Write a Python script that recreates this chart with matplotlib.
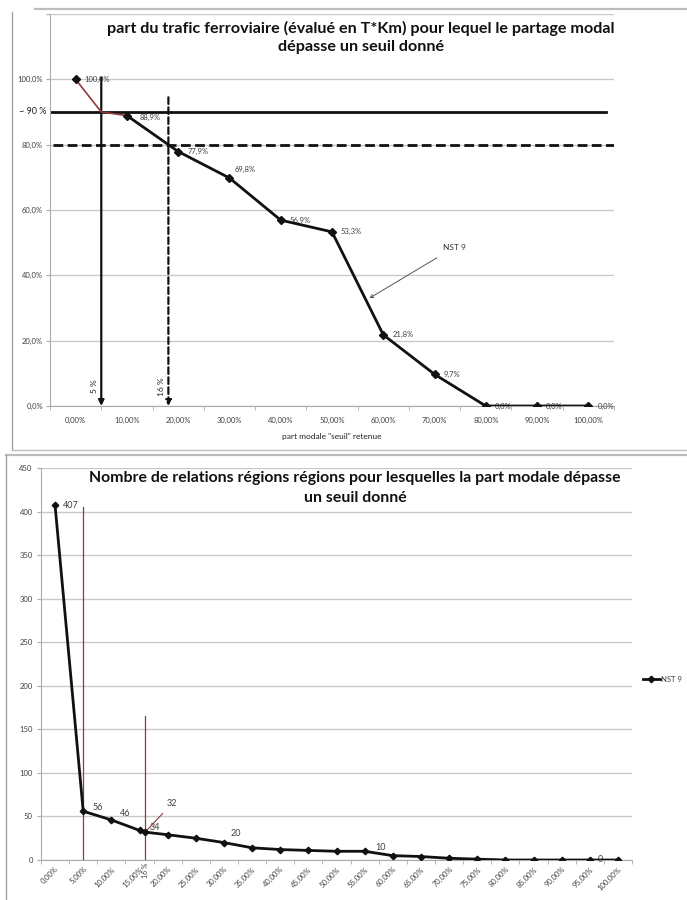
import numpy as np
import matplotlib
matplotlib.use("Agg")
import matplotlib.pyplot as plt
from matplotlib.lines import Line2D
from matplotlib.ticker import FixedLocator, FuncFormatter

plt.rcParams['font.family'] = ['Lato', 'DejaVu Sans']

# ---- data: share of rail traffic (T*Km) above a modal-share threshold ----
seuils_top = [0, 10, 20, 30, 40, 50, 60, 70, 80, 90, 100]
part_trafic = [100.0, 88.9, 77.9, 69.8, 56.9, 53.3, 21.8, 9.7, 0.0, 0.0, 0.0]
top_labels = ["0,00%", "10,00%", "20,00%", "30,00%", "40,00%", "50,00%",
              "60,00%", "70,00%", "80,00%", "90,00%", "100,00%"]
# threshold reached for ~90 % of the traffic
seuil_90 = 5
niveau_90 = 90
# threshold reached for 80 % of the traffic
niveau_80 = 80

# ---- data: number of region-to-region relations above a threshold ----
seuils_bottom = [0, 5, 10, 15, 16, 20, 25, 30, 35, 40, 45, 50, 55, 60, 65,
                 70, 75, 80, 85, 90, 95, 100]
nb_relations = [407, 56, 46, 34, 32, 29, 25, 20, 14, 12, 11, 10, 10, 5, 4,
                2, 1, 0, 0, 0, 0, 0]
bottom_ticks = list(range(0, 101, 5))
bottom_labels = ["%d,00%%" % v for v in bottom_ticks]
seuil_16 = 16

W, H = 687, 900
fig = plt.figure(figsize=(W / 100, H / 100), dpi=100)
fig.patch.set_facecolor("white")


def box(x0, y0, x1, y1):
    """pixel box (top-left origin) -> figure fraction rect"""
    return [x0 / W, 1 - y1 / H, (x1 - x0) / W, (y1 - y0) / H]


def fx(x):
    return x / W


def fy(y):
    return 1 - y / H


grid_c = "#c9c9c9"
txt_c = "#404040"
red_c = "#8e3b3b"

# ---------------- frames of the two chart areas ----------------
frame_c = "#bdbdbd"
fig.add_artist(Line2D([fx(35), fx(687)], [fy(9), fy(9)], color=frame_c, lw=1.6))
fig.add_artist(Line2D([fx(12), fx(12)], [fy(12), fy(450)], color="#9a9a9a", lw=0.9))
fig.add_artist(Line2D([fx(12), fx(687)], [fy(450), fy(450)], color=frame_c, lw=1.0))
fig.add_artist(Line2D([fx(6), fx(687)], [fy(455), fy(455)], color=frame_c, lw=1.6))
fig.add_artist(Line2D([fx(6), fx(6)], [fy(455), fy(900)], color="#9a9a9a", lw=0.9))

# ======================= top chart =======================
ax = fig.add_axes(box(50, 14, 614, 406))
ax.set_xlim(-5, 105)
ax.set_ylim(0, 120)
for s in ("top", "right"):
    ax.spines[s].set_visible(False)
for s in ("left", "bottom"):
    ax.spines[s].set_color("#aaaaaa")
    ax.spines[s].set_linewidth(0.8)

ax.yaxis.set_major_locator(FixedLocator([0, 20, 40, 60, 80, 100, 120]))
ax.yaxis.set_major_formatter(FuncFormatter(
    lambda v, p: "" if v > 100 else ("%.1f%%" % v).replace(".", ",")))
ax.grid(axis="y", color=grid_c, lw=1.0)
ax.set_axisbelow(True)
ax.tick_params(axis="y", length=3, color="#aaaaaa", labelsize=5.5,
               labelcolor=txt_c, pad=2)
ax.set_xticks(seuils_top)
ax.set_xticklabels(top_labels)
ax.set_xticks(np.arange(-5, 106, 10), minor=True)
ax.tick_params(axis="x", which="major", length=0, labelsize=5.5,
               labelcolor=txt_c, pad=8)
ax.tick_params(axis="x", which="minor", length=3, color="#aaaaaa")
ax.set_xlabel('part modale "seuil" retenue', fontsize=6, color="#222222",
              labelpad=6)
ax.text(-5.8, niveau_90, "~ 90 %", ha="right", va="center", fontsize=6.5,
        color="#222222")

# threshold guide lines
ax.plot([-5, 103.5], [niveau_90, niveau_90], color="#111111", lw=2.0)
ax.plot([-4.5, 105], [niveau_80, niveau_80], color="#111111", lw=2.0,
        dashes=(3.5, 1.6))
x80 = float(np.interp(niveau_80, part_trafic[2::-1], seuils_top[2::-1]))
ax.annotate("", xy=(seuil_90, 0), xytext=(seuil_90, 100.5),
            arrowprops=dict(arrowstyle="-|>", color="#111111", lw=1.6,
                            mutation_scale=8, shrinkA=0, shrinkB=0))
ax.annotate("", xy=(x80, 0), xytext=(x80, 94.5),
            arrowprops=dict(arrowstyle="-|>", color="#111111", lw=1.6,
                            ls=(0, (3, 1.5)), mutation_scale=8,
                            shrinkA=0, shrinkB=0))
ax.text(seuil_90 - 1.3, 6, "5 %", rotation=90, ha="center", va="center",
        fontsize=6, color="#222222")
ax.text(x80 - 1.4, 6, "16 %", rotation=90, ha="center", va="center",
        fontsize=6, color="#222222")

# series
ax.plot([seuils_top[0], seuil_90, seuils_top[1]],
        [part_trafic[0], niveau_90, part_trafic[1]], color=red_c, lw=1.2,
        zorder=4)
ax.plot(seuils_top[1:], part_trafic[1:], color="#111111", lw=2.0, zorder=4)
ax.plot(seuils_top, part_trafic, ls="none", marker="D", ms=3.8,
        color="#111111", zorder=5)

offsets = {1: (13, -2), 3: (5, 9)}
for i, (xv, yv) in enumerate(zip(seuils_top, part_trafic)):
    dx, dy = offsets.get(i, (9, 0))
    ax.annotate(("%.1f%%" % yv).replace(".", ","), (xv, yv),
                xytext=(dx, dy), textcoords="offset pixels", ha="left",
                va="center", fontsize=5.5, color=txt_c, zorder=3)

ax.annotate("NST 9", xy=(57.3, 33), xytext=(73.9, 48.6), fontsize=6,
            color="#333333", ha="center", va="center",
            arrowprops=dict(arrowstyle="->", color="#555555", lw=0.7,
                            shrinkA=6, shrinkB=0))

fig.text(fx(361), fy(28), "part du trafic ferroviaire (évalué en T*Km) pour lequel le partage modal",
         ha="center", va="center", fontsize=11.6, fontweight="bold", color="#111111")
fig.text(fx(361), fy(47), "dépasse un seuil donné", ha="center", va="center",
         fontsize=11.6, fontweight="bold", color="#111111")

# ======================= bottom chart =======================
bx = fig.add_axes(box(41, 468, 632, 860))
bx.set_xlim(-2.5, 102.5)
bx.set_ylim(0, 450)
for s in ("top", "right"):
    bx.spines[s].set_visible(False)
for s in ("left", "bottom"):
    bx.spines[s].set_color("#aaaaaa")
    bx.spines[s].set_linewidth(0.8)
bx.set_yticks(np.arange(0, 451, 50))
bx.grid(axis="y", color=grid_c, lw=1.0)
bx.set_axisbelow(True)
bx.tick_params(axis="y", length=3, color="#aaaaaa", labelsize=5.5,
               labelcolor=txt_c, pad=3)
bx.set_xticks(bottom_ticks)
bx.set_xticklabels(bottom_labels, rotation=45, ha="right",
                   rotation_mode="anchor")
bx.set_xticks(np.arange(-2.5, 103, 5), minor=True)
bx.tick_params(axis="x", which="major", length=0, labelsize=5.5,
               labelcolor=txt_c, pad=4)
bx.tick_params(axis="x", which="minor", length=3, color="#aaaaaa")

bx.plot([seuil_90, seuil_90], [0, 405], color=red_c, lw=0.9, zorder=3)
bx.plot([seuil_16, seuil_16], [0, 165], color=red_c, lw=0.9, zorder=3)

bx.plot(seuils_bottom, nb_relations, color="#111111", lw=2.0, marker="D",
        ms=3.3, zorder=4, label="NST 9")

b_offsets = {0: (8, 0, "407"), 1: (9, 4, "56"), 2: (9, 6, "46"),
             3: (10, 3, "34"), 7: (7, 9, "20"), 12: (11, 4, "10"),
             20: (8, 0, "0")}
for i, (dx, dy, _) in b_offsets.items():
    bx.annotate(str(nb_relations[i]), (seuils_bottom[i], nb_relations[i]),
                xytext=(dx, dy), textcoords="offset pixels", ha="left",
                va="center", fontsize=6.5, color=txt_c, zorder=3)
bx.annotate(str(nb_relations[4]), xy=(seuils_bottom[4], nb_relations[4]),
            xytext=(22, 29), textcoords="offset pixels", ha="left",
            va="center", fontsize=6.5, color=txt_c,
            arrowprops=dict(arrowstyle="-", color=red_c, lw=0.8,
                            shrinkA=3, shrinkB=0))
bx.text(seuil_16, -3, "16 %", rotation=90, ha="center", va="top",
        fontsize=5, color=txt_c, transform=bx.transData)

leg = bx.legend(loc="center left", bbox_to_anchor=(fx(640), fy(679)),
                bbox_transform=fig.transFigure, frameon=False, fontsize=5.5,
                handlelength=2.2, handletextpad=0.2, borderaxespad=0)
for t in leg.get_texts():
    t.set_color(txt_c)

fig.text(fx(355), fy(478), "Nombre de relations régions régions pour lesquelles la part modale dépasse",
         ha="center", va="center", fontsize=11.4, fontweight="bold", color="#111111")
fig.text(fx(355), fy(498), "un seuil donné", ha="center", va="center",
         fontsize=11.4, fontweight="bold", color="#111111")

fig.savefig("out.png", dpi=100, facecolor="white")
